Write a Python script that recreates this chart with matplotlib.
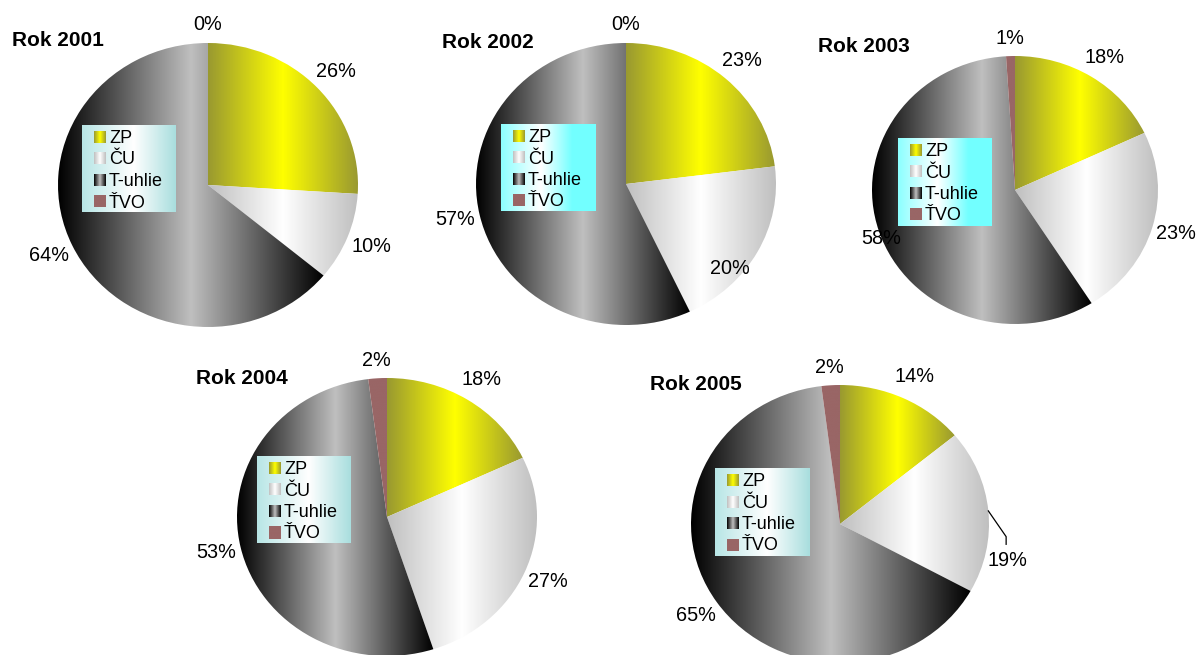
import numpy as np
import matplotlib
matplotlib.use("Agg")
import matplotlib.pyplot as plt

plt.rcParams['font.family'] = ['Liberation Sans', 'DejaVu Sans']

W, H = 1200, 655

# data (percent shares per year)
years = ["Rok 2001", "Rok 2002", "Rok 2003", "Rok 2004", "Rok 2005"]
categories = ["ZP", "ČU", "T-uhlie", "ŤVO"]
zp = [26, 23, 18, 18, 14]
cu = [10, 20, 23, 27, 19]
t_uhlie = [64, 57, 58, 53, 65]
tvo = [0, 0, 1, 2, 2]

# horizontal gradient stops per category: edge -> middle -> edge
olive, yellow = (0.60, 0.60, 0.19), (1.0, 1.0, 0.0)
lgray, white = (0.75, 0.75, 0.75), (1.0, 1.0, 1.0)
black = (0.0, 0.0, 0.0)
rose = (0.60, 0.40, 0.40)
slice_grads = [
    [(0, olive), (0.5, yellow), (1, olive)],
    [(0, lgray), (0.5, white), (1, lgray)],
    [(0, black), (0.5, lgray), (1, black)],
    [(0, rose), (1, rose)],
]
pale_bg = [(0, (0.72, 0.90, 0.90)), (0.55, white), (1, (0.66, 0.87, 0.87))]
cyan_bg = [(0, (0.55, 1.0, 1.0)), (0.42, white), (0.75, (0.45, 1.0, 1.0)), (1, (0.45, 1.0, 1.0))]

# layout in pixels: pie centre x, centre y, radius x, radius y
pies = [(208, 185, 150, 142), (626, 184, 150, 141), (1015, 190, 143, 134),
        (387, 517, 150, 139), (840, 524, 149, 139)]
legend_boxes = [(82, 125, 94, 87), (501, 124, 95, 87), (898, 138, 94, 88),
                (257, 456, 94, 87), (715, 468, 95, 88)]
legend_bgs = [pale_bg, cyan_bg, cyan_bg, pale_bg, pale_bg]
title_pos = [(12, 40), (442, 43), (818, 46), (196, 379), (650, 384)]

# labels that Excel moved away from the default spot (axes data units)
label_moves = {(1, 1): (0.693, -0.596), (2, 2): (-0.933, -0.363), (4, 1): (1.121, -0.266)}
leader = {(4, 1)}


def hgrad(stops, n=256):
    t = np.linspace(0, 1, n)
    pos = [p for p, _ in stops]
    cols = np.array([c for _, c in stops], dtype=float)
    img = np.stack([np.interp(t, pos, cols[:, k]) for k in range(3)], axis=-1)
    return img[None, :, :]


fig = plt.figure(figsize=(W / 100, H / 100), dpi=100)
fig.patch.set_facecolor("white")

for i, year in enumerate(years):
    cx, cy, rx, ry = pies[i]
    ax = fig.add_axes([(cx - rx) / W, 1 - (cy + ry) / H, 2 * rx / W, 2 * ry / H])
    vals = [zp[i], cu[i], t_uhlie[i], tvo[i]]
    wedges, _, pct = ax.pie(vals, startangle=90, counterclock=False,
                            autopct="%1.0f%%", pctdistance=1.17, radius=1,
                            textprops=dict(fontsize=14.3, color="black"))
    for w, stops in zip(wedges, slice_grads):
        w.set_facecolor("none")
        w.set_edgecolor("none")
        if w.theta2 - w.theta1 <= 0:
            continue
        bb = w.get_path().get_extents()
        im = ax.imshow(hgrad(stops), extent=(bb.x0, bb.x1, bb.y0, bb.y1),
                       aspect="auto", interpolation="bilinear", zorder=0)
        im.set_clip_path(w)
    for j, t in enumerate(pct):
        t.set_ha("center")
        t.set_va("center")
        w = wedges[j]
        mid = np.radians((w.theta1 + w.theta2) / 2)
        if (i, j) in label_moves:
            lx, ly = label_moves[(i, j)]
            t.set_position((lx, ly))
            if (i, j) in leader:
                ex, ey = np.cos(mid), np.sin(mid)
                ax.plot([ex, lx - 0.006, lx - 0.006], [ey, ly + 0.175, ly + 0.12],
                        color="black", lw=0.9, clip_on=False)
        elif abs(np.cos(mid)) < 0.1:
            # labels right above the pie sit a little closer
            t.set_position((1.13 * np.cos(mid), 1.13 * np.sin(mid)))
    ax.set_aspect("auto")
    ax.set_xlim(-1, 1)
    ax.set_ylim(-1, 1)
    ax.axis("off")

    # legend box with gradient background
    lx0, ly0, lw, lh = legend_boxes[i]
    lax = fig.add_axes([lx0 / W, 1 - (ly0 + lh) / H, lw / W, lh / H])
    lax.imshow(hgrad(legend_bgs[i]), extent=(0, lw, lh, 0), aspect="auto",
               interpolation="bilinear")
    for k, cat in enumerate(categories):
        yk = 12 + 21.5 * k
        lax.imshow(hgrad(slice_grads[k]), extent=(12, 24, yk + 6, yk - 6),
                   aspect="auto", interpolation="bilinear")
        lax.text(27, yk + 6, cat, va="baseline", ha="left", fontsize=13)
    lax.set_xlim(0, lw)
    lax.set_ylim(lh, 0)
    lax.axis("off")

    tx, ty = title_pos[i]
    fig.text(tx / W, 1 - ty / H, year, fontsize=15, fontweight="bold",
             ha="left", va="center")

fig.savefig("out.png", dpi=100, facecolor="white")
